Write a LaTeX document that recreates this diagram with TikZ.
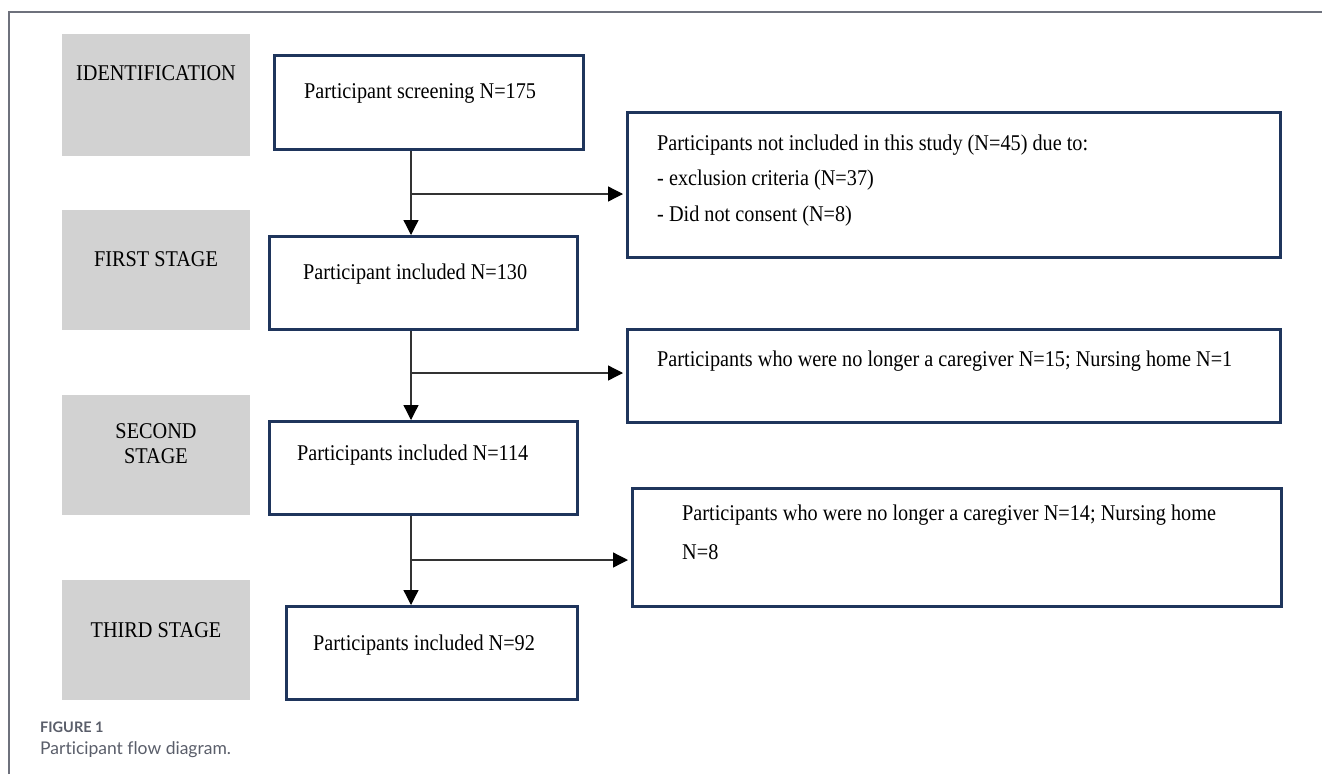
\documentclass[tikz,border=0pt]{standalone}
\usepackage{fontspec}
\setmainfont{Liberation Serif}
\newfontfamily\tnr[FakeStretch=0.9]{Liberation Serif}
\newfontfamily\capfont[Ligatures=NoCommon]{Lato}
\usetikzlibrary{arrows.meta}
\definecolor{navy}{HTML}{1F355C}
\definecolor{graybox}{HTML}{D2D2D2}
\definecolor{framegray}{HTML}{6E717C}
\definecolor{capgray}{HTML}{5A5E6A}
\begin{document}
\begin{tikzpicture}[x=1pt,y=-1pt,
  stagebox/.style={fill=graybox,draw=none,anchor=north west,inner sep=0pt},
  flowbox/.style={draw=navy,line width=2.5pt,fill=white,anchor=north west,inner sep=0pt},
  stagetxt/.style={font=\tnr\fontsize{22.5}{25}\selectfont,align=center,inner sep=0pt},
  flowtxt/.style={font=\tnr\fontsize{22.5}{25}\selectfont,anchor=west,inner sep=0pt},
  arr/.style={draw=black!80,line width=1.3pt,-{Triangle[length=15pt,width=15pt,fill=black,color=black]}}]
\useasboundingbox (0,0) rectangle (1322,774);
\fill[white] (0,0) rectangle (1322,774);
% frame
\draw[framegray,line width=1.5pt] (9,774) -- (9,12) -- (1322,12);
% stage boxes
\node[stagebox,minimum width=188pt,minimum height=122pt] (s1) at (62,34) {};
\node[stagebox,minimum width=188pt,minimum height=120pt] (s2) at (62,210) {};
\node[stagebox,minimum width=188pt,minimum height=120pt] (s3) at (62,395) {};
\node[stagebox,minimum width=188pt,minimum height=120pt] (s4) at (62,580) {};
\node[stagetxt] (t1) at (156,73) {IDENTIFICATION};
\node[stagetxt] (t2) at (156,259) {FIRST STAGE};
\node[stagetxt] (t3) at (156,444) {SECOND\\STAGE};
\node[stagetxt] (t4) at (156,630) {THIRD STAGE};
% flow boxes
\node[flowbox,minimum width=309pt,minimum height=94pt] (A) at (273,54) {};
\node[flowbox,minimum width=308pt,minimum height=93pt] (B) at (268,235) {};
\node[flowbox,minimum width=308pt,minimum height=93pt] (C) at (268,420) {};
\node[flowbox,minimum width=291pt,minimum height=93pt] (D) at (285,605) {};
\node[flowbox,minimum width=653pt,minimum height=145pt] (E) at (626,111) {};
\node[flowbox,minimum width=653pt,minimum height=93pt] (F) at (626,328) {};
\node[flowbox,minimum width=649pt,minimum height=118pt] (G) at (631,487) {};
\node[flowtxt] (ta) at (304,93) {Participant screening N=175};
\node[flowtxt] (tb) at (303,274) {Participant included N=130};
\node[flowtxt] (tc) at (297,455) {Participants included N=114};
\node[flowtxt] (td) at (313,645) {Participants included N=92};
\node[flowtxt] (te1) at (657,145) {Participants not included in this study (N=45) due to:};
\node[flowtxt] (te2) at (657,180) {- exclusion criteria (N=37)};
\node[flowtxt] (te3) at (657,216) {- Did not consent (N=8)};
\node[flowtxt] (tf) at (657,361) {Participants who were no longer a caregiver N=15; Nursing home N=1};
\node[flowtxt] (tg1) at (682,515) {Participants who were no longer a caregiver N=14; Nursing home};
\node[flowtxt] (tg2) at (682,552) {N=8};
% connectors
\coordinate (vx) at (411,0);
\coordinate (h1) at (0,194);
\coordinate (h2) at (0,373);
\coordinate (h3) at (0,560);
\draw[arr] (vx |- A.south) -- (vx |- B.north);
\draw[arr] (vx |- h1) -- ([xshift=-3pt]E.west |- h1);
\draw[arr] (vx |- B.south) -- (vx |- C.north);
\draw[arr] (vx |- h2) -- ([xshift=-3pt]F.west |- h2);
\draw[arr] (vx |- C.south) -- (vx |- D.north);
\draw[arr] (vx |- h3) -- ([xshift=-3pt]G.west |- h3);
% caption
\node[anchor=west,inner sep=0pt,font=\capfont\bfseries\fontsize{14.5}{16}\selectfont,text=capgray] (cap1) at (40,727) {FIGURE 1};
\node[anchor=west,inner sep=0pt,font=\capfont\fontsize{17.5}{20}\selectfont,text=capgray] (cap2) at (40,750) {Participant flow diagram.};
\end{tikzpicture}
\end{document}
